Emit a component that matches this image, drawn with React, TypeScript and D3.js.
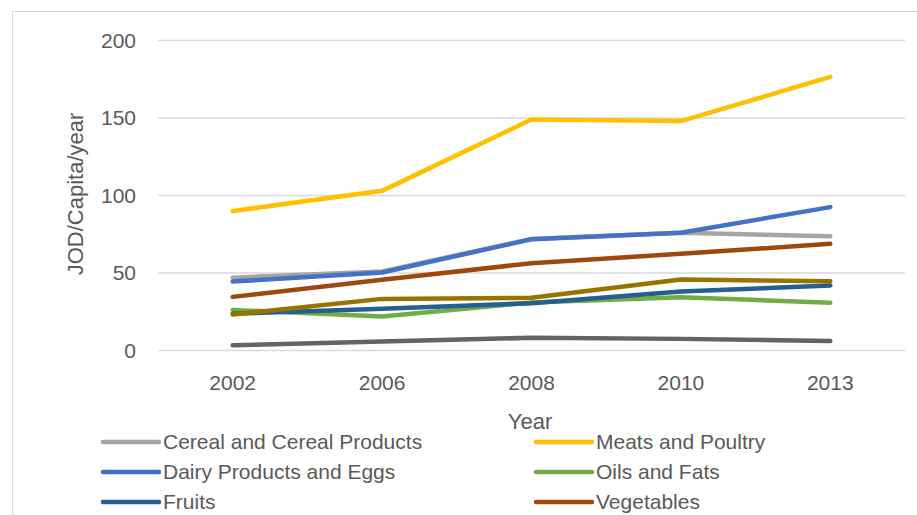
import React from "react";
import * as d3 from "d3";

const years = ["2002", "2006", "2008", "2010", "2013"];
const seriesNames = [
  "Cereal and Cereal Products",
  "Meats and Poultry",
  "Dairy Products and Eggs",
  "Oils and Fats",
  "Fruits",
  "Vegetables",
  "Sugar and Sweets",
  "Other Food Items",
];
const cereal = [47, 51, 72, 76, 73.7];
const meats = [90, 103, 149, 148, 176.5];
const dairy = [44.5, 50.3, 71.8, 76, 92.5];
const oils = [26.2, 21.9, 31, 34.4, 30.8];
const fruits = [23.7, 26.9, 30.5, 38, 42];
const vegetables = [34.6, 45.6, 56.3, 62.4, 68.8];
const sugar = [3.4, 5.8, 8.2, 7.5, 6.2];
const other = [23.2, 33.3, 34, 45.8, 44.7];
const seriesValues = [cereal, meats, dairy, oils, fruits, vegetables, sugar, other];
const colors = ["#A5A5A5", "#FFC000", "#4472C4", "#70AD47", "#255E91", "#9E480E", "#636363", "#997300"];
const yTicks = [0, 50, 100, 150, 200];

const FONT = "'Liberation Sans', Arial, sans-serif";

export default function App() {
  const W = 917, H = 515;
  const left = 158, right = 905, top = 40.5, bottom = 350.5;
  const x = d3.scaleBand<string>().domain(years).range([left, right]);
  const y = d3.scaleLinear().domain([0, 200]).range([bottom, top]);
  const line = d3
    .line<number>()
    .x((_, i) => (x(years[i]) as number) + x.bandwidth() / 2)
    .y((v) => y(v));

  const legendRows = [442, 472, 502, 532];
  const legendCols = [103, 536];

  return (
    <svg width={W} height={H} style={{ position: "absolute", left: 0, top: 0, background: "#fff" }}>
      <rect x={12.5} y={11.5} width={W} height={H} fill="#fff" stroke="#D9D9D9" strokeWidth={1} />
      {yTicks.map((t) => (
        <g key={t}>
          <line x1={left} x2={right} y1={y(t)} y2={y(t)} stroke="#D9D9D9" strokeWidth={1.5} />
          <text x={136} y={y(t)} dy="0.35em" textAnchor="end" fontFamily={FONT} fontSize={21} fill="#595959">
            {t}
          </text>
        </g>
      ))}
      {years.map((yr) => (
        <text
          key={yr}
          x={(x(yr) as number) + x.bandwidth() / 2}
          y={390}
          textAnchor="middle"
          fontFamily={FONT}
          fontSize={21}
          fill="#595959"
        >
          {yr}
        </text>
      ))}
      <text x={530} y={429} textAnchor="middle" fontFamily={FONT} fontSize={22} fill="#595959">
        Year
      </text>
      <text
        transform="translate(83,194) rotate(-90)"
        textAnchor="middle"
        fontFamily={FONT}
        fontSize={22}
        fill="#595959"
      >
        JOD/Capita/year
      </text>
      {seriesValues.map((vals, i) => (
        <path
          key={seriesNames[i]}
          d={line(vals) as string}
          fill="none"
          stroke={colors[i]}
          strokeWidth={4.5}
          strokeLinecap="round"
          strokeLinejoin="round"
        />
      ))}
      {seriesNames.map((name, i) => {
        const cx = legendCols[i % 2];
        const cy = legendRows[Math.floor(i / 2)];
        if (cy > H - 8) return null;
        return (
          <g key={name}>
            <line x1={cx} x2={cx + 56} y1={cy} y2={cy} stroke={colors[i]} strokeWidth={4.5} strokeLinecap="round" />
            <text x={cx + 60} y={cy} dy="0.35em" fontFamily={FONT} fontSize={21} fill="#595959">
              {name}
            </text>
          </g>
        );
      })}
    </svg>
  );
}
